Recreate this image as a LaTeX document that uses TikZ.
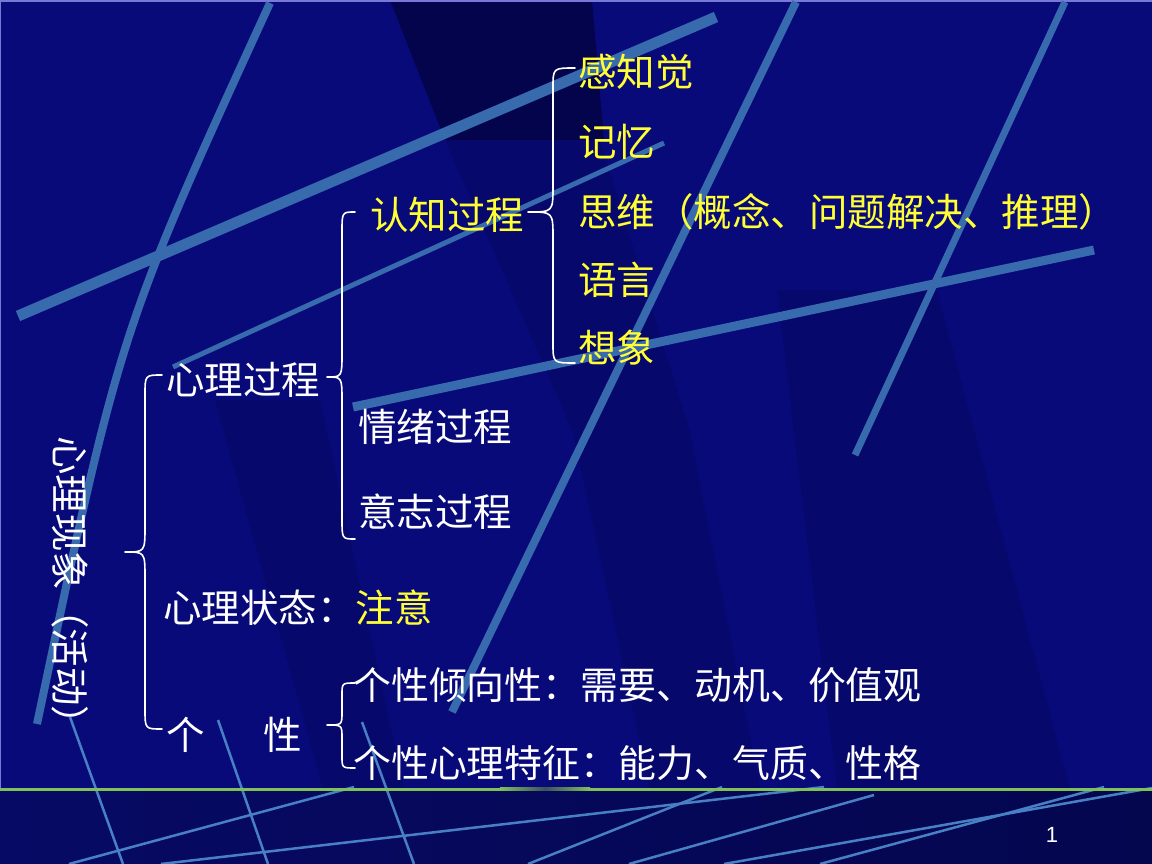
\documentclass[tikz,border=0pt]{standalone}
\usepackage{fontspec}
\setmainfont{Liberation Sans}
\newfontfamily\cjk{Noto Sans CJK SC}
\definecolor{bgblue}{RGB}{8,10,122}
\definecolor{darkband}{RGB}{3,4,76}
\definecolor{midband}{RGB}{6,8,108}
\definecolor{botleft}{RGB}{7,10,100}
\definecolor{botright}{RGB}{4,6,78}
\definecolor{streakc}{RGB}{56,106,174}
\definecolor{thinc}{RGB}{72,128,198}
\definecolor{yel}{RGB}{255,255,51}
\definecolor{grn}{RGB}{128,192,88}
\definecolor{grndim}{RGB}{60,80,95}
\definecolor{topline}{RGB}{120,120,215}
\tikzset{
  streak/.style={draw=streakc, line cap=butt},
  thinline/.style={draw=thinc, line width=2.5pt},
  txt/.style={anchor=west, inner sep=0pt, text=white,
    font=\cjk\fontsize{38.5}{38.5}\selectfont, text height=32pt, text depth=2.7pt},
  longtxt/.style={txt, font=\cjk\fontsize{37.9}{37.9}\selectfont},
  ytxt/.style={txt, text=yel},
  bracestyle/.style={draw=white, line width=1.6pt, line cap=round, line join=round}
}
% #1 x end, #2 x spine, #3 x tip, #4 y top, #5 y tip, #6 y bottom, #7 end radius, #8 tip radius
\newcommand{\mybrace}[8]{%
  \draw[bracestyle] (#1,#4) .. controls (#2,#4) .. (#2,#4+#7) -- (#2,#5-#8)
    .. controls (#2,#5) .. (#3,#5) .. controls (#2,#5) .. (#2,#5+#8)
    -- (#2,#6-#7) .. controls (#2,#6) .. (#1,#6);}
\begin{document}
\begin{tikzpicture}[x=1pt,y=-1pt]
\useasboundingbox (0,0) rectangle (1152,864);
% background
\fill[bgblue] (0,0) rectangle (1152,864);
\fill[midband] (445,140) -- (600,140) -- (690,432) -- (760,789) -- (650,789) -- (573,432) -- cycle;
\fill[darkband] (390,0) -- (592,0) -- (604,140) -- (445,140) -- cycle;
\fill[midband] (777,290) -- (937,291) -- (1070,789) -- (837,789) -- cycle;
\fill[midband] (215,400) -- (320,400) -- (404,789) -- (323,789) -- cycle;
\shade[left color=botleft, right color=botright] (0,789) rectangle (1152,864);
\draw[topline, line width=2pt] (0,1) -- (1152,1);
\draw[topline, line width=1.2pt] (0.6,0) -- (0.6,789);
% thick streaks
\draw[streak, line width=8pt] (270,3) .. controls (120,330) .. (37,724);
\draw[streak, line width=11pt] (18,316) -- (716,17);
\draw[streak, line width=5pt] (173,367) -- (664,143);
\draw[streak, line width=9pt] (353,407) -- (1094,250);
\draw[streak, line width=8pt] (796,2) -- (452,712);
\draw[streak, line width=7pt] (1065,2) -- (855,455);
% thin streaks at the bottom
\draw[thinline] (70,717) -- (123,864);
\draw[thinline] (218,720) -- (268,864);
\draw[thinline] (362,722) -- (414,864);
\draw[thinline] (354,787) -- (69,864);
\draw[thinline] (161,864) -- (824,787);
\draw[thinline] (528,864) -- (722,787);
\draw[thinline] (629,864) -- (874,795);
\draw[thinline] (820,864) -- (1104,787);
\draw[thinline] (724,864) -- (1152,788);
% green rule
\fill[grn] (0,787.5) rectangle (500,790.5);
\shade[left color=grn, right color=grndim] (500,787.5) rectangle (545,790.5);
\shade[left color=grndim, right color=grn] (545,787.5) rectangle (590,790.5);
\fill[grn] (590,787.5) rectangle (1152,790.5);
% texts
\node[ytxt] (gzj) at (578,72) {感知觉};
\node[ytxt] (jy) at (578,142) {记忆};
\node[ytxt] (sw) at (578,212) {思维（概念、问题解决、推理）};
\node[ytxt] (yy) at (578,280) {语言};
\node[ytxt] (xx) at (578,348) {想象};
\node[ytxt] (rzgc) at (370,215) {认知过程};
\node[txt] (xlgc) at (166,380) {心理过程};
\node[txt] (qxgc) at (358,427) {情绪过程};
\node[txt] (yzgc) at (358,512) {意志过程};
\node[txt] (xlzt) at (163,608) {心理状态：\textcolor{yel}{注意}};
\node[longtxt] (gxqx) at (353,685) {个性倾向性：需要、动机、价值观};
\node[txt] (gx) at (166,735) {个\hspace{59pt}性};
\node[longtxt] (gxtz) at (353,763) {个性心理特征：能力、气质、性格};
\node[txt, anchor=center, rotate=-90] (xlxx) at (70,590) {心理现象（活动）};
\node[anchor=center, inner sep=0pt, text=white, font=\fontsize{22}{22}\selectfont] (page) at (1052,835) {1};
% braces
\mybrace{575}{553}{528}{68}{212}{363}{20}{26}
\mybrace{355}{342}{327}{212}{377}{539}{20}{24}
\mybrace{162}{145}{125}{375}{552}{729}{20}{26}
\mybrace{355}{342}{327}{683}{725}{768}{12}{13}
\end{tikzpicture}
\end{document}
